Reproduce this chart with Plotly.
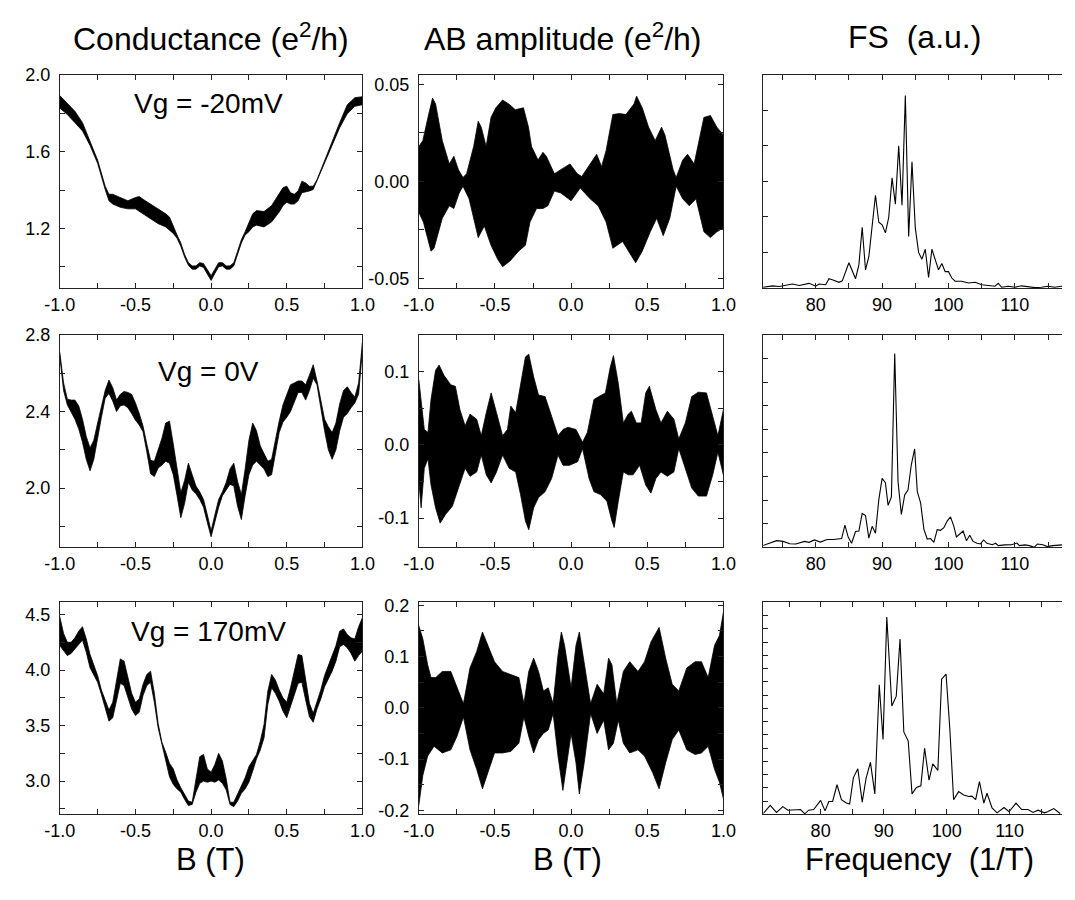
import plotly.graph_objects as go

# ---------------- data ----------------
# Row 1: Vg = -20 mV  -- conductance band (upper / lower edge of the oscillating trace)
B_g1 = [-1.0, -0.95, -0.9, -0.85, -0.8, -0.75, -0.7, -0.675, -0.65, -0.6, -0.55, -0.5,
        -0.475, -0.45, -0.4, -0.35, -0.3, -0.275, -0.25, -0.225, -0.2, -0.175, -0.15, -0.125,
        -0.1, -0.075, -0.05, -0.025, 0.0, 0.025, 0.05, 0.075, 0.1, 0.125, 0.15, 0.175, 0.2,
        0.225, 0.25, 0.275, 0.3, 0.35, 0.4, 0.45, 0.475, 0.5, 0.525, 0.55, 0.575, 0.6, 0.625,
        0.65, 0.675, 0.7, 0.75, 0.8, 0.85, 0.9, 0.95, 1.0]
G1_top = [1.892, 1.853, 1.810, 1.751, 1.658, 1.556, 1.420, 1.378, 1.378, 1.361, 1.344, 1.361,
          1.366, 1.352, 1.327, 1.302, 1.276, 1.259, 1.208, 1.166, 1.124, 1.064, 1.022, 1.005,
          1.005, 1.022, 1.017, 0.988, 0.954, 0.988, 1.022, 1.022, 1.005, 1.005, 1.022, 1.081,
          1.141, 1.183, 1.225, 1.276, 1.293, 1.288, 1.319, 1.378, 1.412, 1.420, 1.386, 1.378,
          1.395, 1.446, 1.437, 1.420, 1.420, 1.454, 1.556, 1.658, 1.751, 1.844, 1.881, 1.886]
G1_bot = [1.827, 1.793, 1.751, 1.708, 1.632, 1.539, 1.403, 1.344, 1.327, 1.310, 1.302, 1.302,
          1.288, 1.276, 1.251, 1.225, 1.208, 1.191, 1.174, 1.149, 1.107, 1.051, 1.008, 0.988,
          0.988, 1.005, 0.997, 0.963, 0.929, 0.966, 1.000, 1.005, 0.988, 0.988, 1.005, 1.064,
          1.124, 1.166, 1.183, 1.208, 1.217, 1.208, 1.234, 1.285, 1.319, 1.336, 1.327, 1.327,
          1.344, 1.386, 1.390, 1.395, 1.403, 1.446, 1.542, 1.632, 1.725, 1.797, 1.836, 1.844]

# Row 2: Vg = 0 V  -- conductance background and half-width of the AB band
B_g2 = [-1.0, -0.975, -0.95, -0.925, -0.9, -0.875, -0.85, -0.825, -0.8, -0.775, -0.75, -0.725,
        -0.7, -0.675, -0.65, -0.625, -0.6, -0.575, -0.55, -0.525, -0.5, -0.475, -0.45, -0.425,
        -0.4, -0.375, -0.35, -0.325, -0.3, -0.275, -0.25, -0.225, -0.2, -0.175, -0.15, -0.125,
        -0.1, -0.075, -0.05, -0.025, 0.0, 0.025, 0.05, 0.075, 0.1, 0.125, 0.15, 0.175, 0.2,
        0.225, 0.25, 0.275, 0.3, 0.325, 0.35, 0.375, 0.4, 0.425, 0.45, 0.475, 0.5, 0.525, 0.55,
        0.575, 0.6, 0.625, 0.65, 0.675, 0.7, 0.725, 0.75, 0.775, 0.8, 0.825, 0.85, 0.875, 0.9,
        0.925, 0.95, 0.975, 1.0]
G2_mid = [2.70, 2.53, 2.45, 2.43, 2.41, 2.37, 2.30, 2.21, 2.15, 2.20, 2.30, 2.40,
          2.49, 2.53, 2.49, 2.43, 2.46, 2.47, 2.46, 2.44, 2.40, 2.36, 2.31, 2.21,
          2.11, 2.10, 2.15, 2.19, 2.24, 2.24, 2.15, 2.03, 1.91, 1.98, 2.08, 2.03,
          1.99, 1.96, 1.92, 1.84, 1.76, 1.84, 1.92, 1.97, 2.01, 2.06, 2.07, 1.97, 1.90,
          2.03, 2.16, 2.23, 2.22, 2.17, 2.14, 2.10, 2.11, 2.22, 2.32, 2.39, 2.43, 2.47, 2.50,
          2.53, 2.53, 2.50, 2.55, 2.61, 2.55, 2.44, 2.33, 2.26, 2.22, 2.27, 2.37, 2.44, 2.46,
          2.46, 2.46, 2.52, 2.74]
G2_half = [0.01, 0.02, 0.015, 0.03, 0.05, 0.06, 0.06, 0.06, 0.06, 0.05, 0.04, 0.03,
           0.02, 0.035, 0.035, 0.03, 0.03, 0.035, 0.04, 0.05, 0.045, 0.03, 0.015, 0.02,
           0.035, 0.04, 0.045, 0.07, 0.10, 0.11, 0.08, 0.07, 0.065, 0.06, 0.05, 0.04,
           0.02, 0.02, 0.02, 0.02, 0.015, 0.02, 0.02, 0.01, 0.02, 0.04, 0.06, 0.065, 0.065,
           0.07, 0.09, 0.11, 0.08, 0.05, 0.04, 0.04, 0.04, 0.035, 0.03, 0.045, 0.06, 0.07, 0.05,
           0.03, 0.03, 0.04, 0.04, 0.035, 0.01, 0.02, 0.03, 0.06, 0.07, 0.07, 0.07, 0.07, 0.07,
           0.04, 0.015, 0.03, 0.02]

# Row 3: Vg = 170 mV
B_g3 = B_g2
G3_mid = [4.35, 4.25, 4.19, 4.20, 4.24, 4.29, 4.33, 4.22, 4.08, 4.00, 3.92, 3.80,
          3.70, 3.59, 3.64, 3.80, 3.99, 3.97, 3.84, 3.72, 3.65, 3.68, 3.82, 3.91,
          3.94, 3.75, 3.50, 3.34, 3.22, 3.10, 3.04, 2.97, 2.92, 2.86, 2.80, 2.80,
          2.96, 3.10, 3.12, 3.05, 3.04, 3.07, 3.13, 3.08, 2.97, 2.80, 2.79, 2.85, 2.92,
          2.98, 3.06, 3.14, 3.22, 3.32, 3.45, 3.75, 3.90, 3.85, 3.77, 3.69, 3.64, 3.75, 3.88,
          4.01, 4.01, 3.82, 3.64, 3.57, 3.68, 3.78, 3.90, 3.98, 4.06, 4.15, 4.28, 4.30, 4.26,
          4.22, 4.18, 4.26, 4.32]
G3_half = [0.13, 0.08, 0.06, 0.05, 0.05, 0.06, 0.06, 0.06, 0.06, 0.05, 0.03, 0.02,
           0.03, 0.05, 0.07, 0.09, 0.11, 0.11, 0.09, 0.07, 0.06, 0.06, 0.05, 0.05,
           0.05, 0.04, 0.02, 0.01, 0.04, 0.06, 0.07, 0.04, 0.02, 0.025, 0.02, 0.01,
           0.06, 0.12, 0.12, 0.06, 0.04, 0.08, 0.12, 0.10, 0.05, 0.01, 0.02, 0.03, 0.03,
           0.05, 0.07, 0.05, 0.02, 0.04, 0.06, 0.06, 0.06, 0.06, 0.05, 0.06, 0.07, 0.09, 0.11,
           0.13, 0.12, 0.09, 0.06, 0.04, 0.03, 0.04, 0.05, 0.06, 0.07, 0.07, 0.07, 0.07, 0.06,
           0.07, 0.10, 0.13, 0.15]

# AB amplitude envelopes (upper / lower) -- row 1
B_ab1_up = [-1.0, -0.974, -0.94, -0.91, -0.89, -0.846, -0.80, -0.77, -0.74, -0.71, -0.686, -0.64,
            -0.61, -0.59, -0.558, -0.526, -0.494, -0.45, -0.41, -0.366, -0.313, -0.28, -0.26,
            -0.217, -0.185, -0.163, -0.11, -0.067, -0.007, 0.04, 0.07, 0.125, 0.168, 0.2, 0.23,
            0.274, 0.317, 0.36, 0.413, 0.43, 0.467, 0.509, 0.552, 0.594, 0.616, 0.67, 0.69, 0.733,
            0.765, 0.808, 0.872, 0.915, 0.957, 1.0]
AB1_up = [0.018, 0.021, 0.033, 0.043, 0.040, 0.021, 0.009, 0.013, 0.006, 0.002, 0.004, 0.018,
          0.031, 0.028, 0.018, 0.033, 0.038, 0.042, 0.040, 0.037, 0.038, 0.028, 0.018,
          0.011, 0.015, 0.013, 0.004, 0.006, 0.009, 0.004, 0.0025, 0.009, 0.014, 0.0076, 0.016,
          0.0345, 0.035, 0.0345, 0.040, 0.044, 0.038, 0.028, 0.021, 0.028, 0.024, 0.006, 0.002, 0.011,
          0.014, 0.009, 0.033, 0.034, 0.028, 0.024]
B_ab1_lo = [-1.0, -0.97, -0.92, -0.90, -0.846, -0.80, -0.77, -0.735, -0.71, -0.67, -0.61, -0.57,
            -0.526, -0.483, -0.45, -0.40, -0.345, -0.30, -0.27, -0.227, -0.185, -0.153, -0.11,
            -0.067, 0.0, 0.06, 0.125, 0.178, 0.23, 0.274, 0.338, 0.38, 0.424, 0.467, 0.52, 0.562,
            0.605, 0.648, 0.69, 0.733, 0.776, 0.82, 0.872, 0.915, 0.957, 1.0]
AB1_lo = [-0.016, -0.021, -0.036, -0.0345, -0.019, -0.0126, -0.014, -0.006, -0.0025, -0.009, -0.029, -0.023,
          -0.033, -0.040, -0.044, -0.041, -0.036, -0.033, -0.021, -0.014, -0.014, -0.0126, -0.005,
          -0.006, -0.010, -0.0034, -0.009, -0.0126, -0.021, -0.0345, -0.031, -0.036, -0.042, -0.036, -0.026, -0.019,
          -0.028, -0.019, -0.0025, -0.009, -0.0126, -0.009, -0.026, -0.029, -0.026, -0.024]

# row 2
B_ab2_up = [-1.0, -0.985, -0.964, -0.94, -0.92, -0.89, -0.867, -0.835, -0.79, -0.76, -0.73, -0.696,
            -0.664, -0.62, -0.59, -0.557, -0.525, -0.49, -0.45, -0.418, -0.396, -0.364, -0.332,
            -0.30, -0.278, -0.246, -0.214, -0.171, -0.128, -0.086, -0.053, -0.021, 0.032, 0.075,
            0.107, 0.15, 0.182, 0.225, 0.257, 0.278, 0.31, 0.343, 0.375, 0.396, 0.428, 0.46, 0.49,
            0.514, 0.557, 0.59, 0.632, 0.675, 0.707, 0.75, 0.792, 0.835, 0.889, 0.93, 0.964, 1.0]
AB2_up = [0.089, 0.062, 0.021, 0.017, 0.062, 0.102, 0.109, 0.095, 0.082, 0.080, 0.048, 0.026,
          0.042, 0.035, 0.0125, 0.044, 0.071, 0.044, 0.0125, 0.021, 0.053, 0.044, 0.080,
          0.120, 0.124, 0.093, 0.068, 0.066, 0.039, 0.0125, 0.021, 0.024, 0.021, 0.0036,
          0.017, 0.062, 0.066, 0.071, 0.106, 0.122, 0.084, 0.030, 0.042, 0.046, 0.030, 0.030, 0.071,
          0.080, 0.048, 0.030, 0.046, 0.035, 0.008, 0.030, 0.066, 0.072, 0.071, 0.039, 0.0125, 0.048]
B_ab2_lo = [-1.0, -0.985, -0.964, -0.94, -0.92, -0.89, -0.86, -0.824, -0.78, -0.74, -0.696, -0.664,
            -0.62, -0.59, -0.557, -0.525, -0.49, -0.45, -0.407, -0.364, -0.332, -0.30, -0.278,
            -0.246, -0.214, -0.171, -0.128, -0.086, -0.053, -0.011, 0.043, 0.075, 0.118, 0.15,
            0.193, 0.235, 0.268, 0.283, 0.31, 0.343, 0.375, 0.407, 0.45, 0.49, 0.524, 0.557, 0.59,
            0.632, 0.675, 0.707, 0.75, 0.792, 0.835, 0.889, 0.93, 0.964, 1.0]
AB2_lo = [-0.05, -0.086, -0.032, -0.019, -0.055, -0.086, -0.107, -0.095, -0.084, -0.059, -0.032, -0.043,
          -0.037, -0.014, -0.041, -0.052, -0.037, -0.014, -0.032, -0.037, -0.068, -0.104, -0.116,
          -0.086, -0.072, -0.064, -0.046, -0.014, -0.028, -0.028, -0.023, -0.005, -0.046, -0.064,
          -0.068, -0.077, -0.104, -0.113, -0.077, -0.037, -0.041, -0.041, -0.028, -0.055, -0.066, -0.046, -0.037,
          -0.043, -0.037, -0.005, -0.032, -0.059, -0.070, -0.070, -0.041, -0.010, -0.041]

# row 3
B_ab3_up = [-1.0, -0.974, -0.942, -0.92, -0.889, -0.846, -0.79, -0.75, -0.707, -0.664, -0.62, -0.582,
            -0.546, -0.503, -0.45, -0.396, -0.343, -0.31, -0.278, -0.246, -0.214, -0.182, -0.15,
            -0.118, -0.086, -0.064, -0.043, 0.0, 0.032, 0.054, 0.086, 0.128, 0.171, 0.214, 0.246,
            0.268, 0.30, 0.343, 0.385, 0.439, 0.482, 0.525, 0.578, 0.621, 0.664, 0.707, 0.76,
            0.814, 0.856, 0.90, 0.942, 0.974, 1.0]
AB3_up = [0.16, 0.135, 0.084, 0.059, 0.059, 0.071, 0.071, 0.040, 0.008, 0.078, 0.11, 0.148,
          0.122, 0.090, 0.071, 0.065, 0.059, 0.008, 0.071, 0.097, 0.071, 0.033, 0.039,
          0.008, 0.103, 0.148, 0.122, 0.039, 0.122, 0.148, 0.090, 0.008, 0.046, 0.027, 0.097,
          0.084, 0.008, 0.071, 0.090, 0.071, 0.090, 0.129, 0.157, 0.097, 0.046, 0.033, 0.078,
          0.090, 0.090, 0.059, 0.122, 0.141, 0.186]
B_ab3_lo = [-1.0, -0.974, -0.942, -0.90, -0.846, -0.79, -0.75, -0.707, -0.664, -0.62, -0.582, -0.546,
            -0.503, -0.45, -0.396, -0.343, -0.31, -0.278, -0.246, -0.214, -0.182, -0.15, -0.118,
            -0.086, -0.054, -0.032, 0.0, 0.032, 0.054, 0.086, 0.128, 0.171, 0.214, 0.246, 0.278,
            0.31, 0.343, 0.385, 0.439, 0.482, 0.535, 0.578, 0.621, 0.664, 0.707, 0.76, 0.814,
            0.856, 0.90, 0.942, 0.974, 1.0]
AB3_lo = [-0.19, -0.132, -0.094, -0.075, -0.088, -0.082, -0.056, -0.018, -0.082, -0.12, -0.158, -0.126,
          -0.088, -0.088, -0.085, -0.069, -0.018, -0.056, -0.088, -0.062, -0.05, -0.043, -0.011,
          -0.094, -0.161, -0.12, -0.05, -0.107, -0.168, -0.107, -0.011, -0.05, -0.024, -0.082, -0.069,
          -0.024, -0.069, -0.088, -0.082, -0.094, -0.126, -0.158, -0.107, -0.062, -0.043, -0.082, -0.091,
          -0.088, -0.075, -0.12, -0.145, -0.177]

# Fourier spectra (a.u.)
F1 = [72, 72.5, 73.5, 74.5, 75.5, 76.5, 77.5, 78, 79, 80, 80.5, 81.5, 82, 82.5, 83.5, 84, 85, 86,
      86.5, 87, 87.5, 88, 89, 89.5, 90, 90.5, 91, 91.5, 92, 92.5, 93, 93.5, 94, 94.5, 95, 95.5,
      96, 96.5, 97, 97.5, 98, 98.5, 99, 99.5, 100, 100.5, 101, 102, 103, 104, 105, 106, 107,
      107.5, 108, 109, 110, 111, 112, 113, 114, 115, 116, 117, 118]
FS1 = [0.02, 0.04, 0.06, 0.04, 0.07, 0.11, 0.07, 0.09, 0.13, 0.05, 0.11, 0.09, 0.26, 0.23, 0.16,
       0.20, 0.71, 0.26, 0.65, 1.71, 0.51, 0.88, 2.61, 1.85, 1.78, 1.55, 1.99, 3.10, 2.36, 4.00,
       2.33, 5.42, 1.45, 3.55, 1.69, 1.00, 0.81, 1.09, 0.30, 1.09, 0.81, 0.51, 0.69, 0.46, 0.46,
       0.28, 0.19, 0.19, 0.14, 0.16, 0.09, 0.07, 0.05, 0.13, 0.02, 0.05, 0.02, 0.06, 0.04, 0.01,
       0.02, 0.05, 0.02, 0.05, 0.03]
F2 = [72.0, 73.1, 74.1, 75.1, 76.1, 77.0, 78.3, 79.0, 79.8, 80.7, 81.7, 82.7, 83.4, 83.9, 84.4,
      84.9, 85.4, 86.0, 86.5, 87.0, 87.5, 88.0, 88.5, 89.0, 89.5, 90.0, 90.5, 90.9, 91.4, 91.9,
      92.4, 92.9, 93.4, 93.9, 94.4, 94.9, 95.3, 95.8, 96.3, 96.8, 97.3, 97.8, 98.3, 98.8, 99.3,
      99.8, 100.3, 100.8, 101.2, 101.7, 102.2, 102.7, 103.2, 103.7, 104.3, 104.8, 105.3, 105.8,
      106.6, 107.1, 107.5, 108.5, 109.5, 110.3, 110.7, 111.5, 112.2, 112.9, 113.4, 114.2, 114.9,
      115.7, 116.4, 117.1]
FS2 = [0.07, 0.17, 0.28, 0.25, 0.15, 0.14, 0.25, 0.21, 0.31, 0.22, 0.33, 0.33, 0.37, 0.37, 0.94,
       0.42, 0.17, 0.67, 0.69, 1.44, 1.35, 0.39, 0.89, 0.60, 2.01, 2.92, 2.74, 1.78, 2.14, 8.22,
       2.78, 1.39, 2.22, 2.43, 3.50, 4.17, 2.36, 1.88, 0.76, 0.35, 0.37, 0.21, 0.75, 0.72, 0.83,
       1.11, 1.29, 0.90, 0.44, 0.56, 0.69, 0.28, 0.51, 0.25, 0.17, 0.14, 0.31, 0.17,
       0.11, 0.17, 0.07, 0.10, 0.11, 0.18, 0.07, 0.10, 0.07, 0.0, 0.14, 0.11, 0.03,
       0.07, 0.08, 0.10]
F3 = [70.9, 72.0, 73.0, 74.0, 74.8, 75.8, 76.8, 77.5, 78.1, 78.9, 80.0, 80.7, 81.3, 81.9, 82.6,
      83.3, 84.1, 84.6, 85.2, 85.9, 86.6, 87.2, 87.9, 88.6, 89.3, 89.9, 90.5, 91.3, 92.0, 92.6,
      93.2, 93.9, 94.5, 95.2, 95.9, 96.5, 97.2, 97.8, 98.6, 99.2, 99.9, 100.5, 101.1, 101.9,
      102.7, 103.5, 104.0, 104.6, 105.2, 105.9, 106.4, 107.2, 108.0, 109.1, 109.9, 111.0, 111.9,
      112.9, 113.7, 114.5, 115.5, 116.0, 117.0, 118.0]
FS3 = [0.07, 0.69, 0.15, 0.59, 0.32, 0.32, 0.37, 0.05, 0.32, 0.37, 1.06, 0.27, 0.98, 0.98, 2.24,
       1.11, 0.86, 0.79, 2.78, 3.44, 0.93, 2.70, 3.93, 1.55, 9.78, 5.65, 14.89, 8.18, 8.92, 13.22,
       6.22, 5.53, 1.55, 2.04, 2.16, 4.99, 2.58, 3.81, 3.32, 10.20, 10.59, 6.46, 1.11, 1.72,
       1.47, 1.35, 1.38, 1.11, 2.48, 0.86, 1.60, 0.49, 0.12, 0.52, 0.20, 0.86, 0.37,
       0.37, 0.15, 0.32, 0.12, 0.20, 0.44, 0.07]

# tick labels
B_ticks = [-1.0, -0.5, 0.0, 0.5, 1.0]
B_ticktext = ["-1.0", "-0.5", "0.0", "0.5", "1.0"]
G_ticks = [[1.2, 1.6, 2.0], [2.0, 2.4, 2.8], [3.0, 3.5, 4.0, 4.5]]
G_ticktext = [["1.2", "1.6", "2.0"], ["2.0", "2.4", "2.8"], ["3.0", "3.5", "4.0", "4.5"]]
AB_ticks = [[-0.05, 0.0, 0.05], [-0.1, 0.0, 0.1], [-0.2, -0.1, 0.0, 0.1, 0.2]]
AB_ticktext = [["-0.05", "0.00", "0.05"], ["-0.1", "0.0", "0.1"], ["-0.2", "-0.1", "0.0", "0.1", "0.2"]]
F_ticks = [80, 90, 100, 110]
F_ticktext = ["80", "90", "100", "110"]

gate_labels = ["Vg = -20mV", "Vg = 0V", "Vg = 170mV"]
col_titles = ["Conductance (e<sup>2</sup>/h)", "AB amplitude (e<sup>2</sup>/h)", "FS  (a.u.)"]
bottom_titles = ["B (T)", "B (T)", "Frequency  (1/T)"]

# ---------------- figure ----------------
FONT = "Liberation Sans, Arial, Helvetica, sans-serif"
W, H = 1075, 900
fig = go.Figure()

col_px = [(45, 356), (414, 727), (768, 1075)]
row_px = [(66, 283), (331, 547), (603, 819)]


def band(xname, yname, xs_up, ys_up, xs_lo, ys_lo):
    fig.add_trace(go.Scatter(
        x=list(xs_up) + list(xs_lo)[::-1], y=list(ys_up) + list(ys_lo)[::-1],
        mode="lines", fill="toself", fillcolor="black",
        line=dict(color="black", width=0.8), xaxis=xname, yaxis=yname,
        hoverinfo="skip", showlegend=False))


g_sets = [
    (B_g1, G1_top, B_g1, G1_bot),
    (B_g2, [m + h for m, h in zip(G2_mid, G2_half)], B_g2, [m - h for m, h in zip(G2_mid, G2_half)]),
    (B_g3, [m + h for m, h in zip(G3_mid, G3_half)], B_g3, [m - h for m, h in zip(G3_mid, G3_half)]),
]
ab_sets = [
    (B_ab1_up, AB1_up, B_ab1_lo, AB1_lo),
    (B_ab2_up, AB2_up, B_ab2_lo, AB2_lo),
    (B_ab3_up, AB3_up, B_ab3_lo, AB3_lo),
]
fs_sets = [(F1, FS1), (F2, FS2), (F3, FS3)]

g_ranges = [[0.89, 2.0], [1.69, 2.8], [2.70, 4.61]]
g_minor = [0.2, 0.2, 0.25]
ab_ranges = [[-0.055, 0.055], [-0.14, 0.15], [-0.208, 0.206]]
ab_minor = [0.025, 0.05, 0.05]
fs_xranges = [[72.1, 117.1], [72.1, 117.1], [70.9, 118.3]]
fs_yranges = [[0, 6], [0, 9], [0, 16]]

tickfont = dict(family=FONT, size=18, color="black")
axis_common = dict(showgrid=False, zeroline=False, showline=True, linecolor="#222",
                   linewidth=1, ticks="inside", ticklen=5, tickcolor="#222", tickwidth=1,
                   tickfont=tickfont)


def minor(d, t0=0):
    return dict(dtick=d, tick0=t0, ticks="inside", ticklen=5, tickcolor="#222")


layout = {}
for r in range(3):
    for c in range(3):
        idx = r * 3 + c + 1
        xn = "x" if idx == 1 else f"x{idx}"
        yn = "y" if idx == 1 else f"y{idx}"
        xk = "xaxis" if idx == 1 else f"xaxis{idx}"
        yk = "yaxis" if idx == 1 else f"yaxis{idx}"
        x0, x1 = col_px[c]
        y0, y1 = row_px[r]
        xdom = [x0 / W, min(x1 / W, 1.0)]
        ydom = [1 - y1 / H, 1 - y0 / H]
        if c == 0:
            band(xn, yn, *g_sets[r])
            layout[xk] = dict(axis_common, domain=xdom, anchor=yn, range=[-1.0, 1.0],
                              tickmode="array", tickvals=B_ticks, ticktext=B_ticktext,
                              mirror="ticks", minor=minor(0.25))
            layout[yk] = dict(axis_common, domain=ydom, anchor=xn, range=g_ranges[r],
                              tickmode="array", tickvals=G_ticks[r], ticktext=G_ticktext[r],
                              mirror="ticks", ticklabelstandoff=5, minor=minor(g_minor[r]))
        elif c == 1:
            band(xn, yn, *ab_sets[r])
            layout[xk] = dict(axis_common, domain=xdom, anchor=yn, range=[-1.0, 1.0],
                              tickmode="array", tickvals=B_ticks, ticktext=B_ticktext,
                              mirror="ticks", minor=minor(0.25))
            layout[yk] = dict(axis_common, domain=ydom, anchor=xn, range=ab_ranges[r],
                              tickmode="array", tickvals=AB_ticks[r], ticktext=AB_ticktext[r],
                              mirror="ticks", ticklabelstandoff=5, minor=minor(ab_minor[r]))
        else:
            fx, fy = fs_sets[r]
            fig.add_trace(go.Scatter(x=fx, y=fy, mode="lines",
                                     line=dict(color="black", width=1.1),
                                     xaxis=xn, yaxis=yn, hoverinfo="skip", showlegend=False))
            layout[xk] = dict(axis_common, domain=xdom, anchor=yn, range=fs_xranges[r],
                              tickmode="array", tickvals=F_ticks, ticktext=F_ticktext,
                              mirror="ticks", minor=minor(5, 80))
            layout[yk] = dict(axis_common, domain=ydom, anchor=xn, range=fs_yranges[r],
                              dtick=1, tick0=0, showticklabels=False, mirror=False)

annotations = []
col_centers = [200, 562, 923]
for c in range(3):
    annotations.append(dict(text=col_titles[c], x=col_centers[c] / W, y=1 - 27 / H,
                            xref="paper", yref="paper", showarrow=False,
                            xanchor="center", yanchor="middle",
                            font=dict(family=FONT, size=32, color="black")))
bot_centers = [200, 567, 929]
for c in range(3):
    annotations.append(dict(text=bottom_titles[c], x=bot_centers[c] / W, y=1 - 865 / H,
                            xref="paper", yref="paper", showarrow=False,
                            xanchor="center", yanchor="middle",
                            font=dict(family=FONT, size=31, color="black")))
vg_y = [95, 368, 633]
for r in range(3):
    annotations.append(dict(text=gate_labels[r], x=198 / W, y=1 - vg_y[r] / H,
                            xref="paper", yref="paper", showarrow=False,
                            xanchor="center", yanchor="middle",
                            font=dict(family=FONT, size=28, color="black")))

fig.update_layout(width=W, height=H, margin=dict(l=0, r=0, t=0, b=0),
                  paper_bgcolor="white", plot_bgcolor="white",
                  annotations=annotations, showlegend=False, **layout)

fig.write_html("out.html")
